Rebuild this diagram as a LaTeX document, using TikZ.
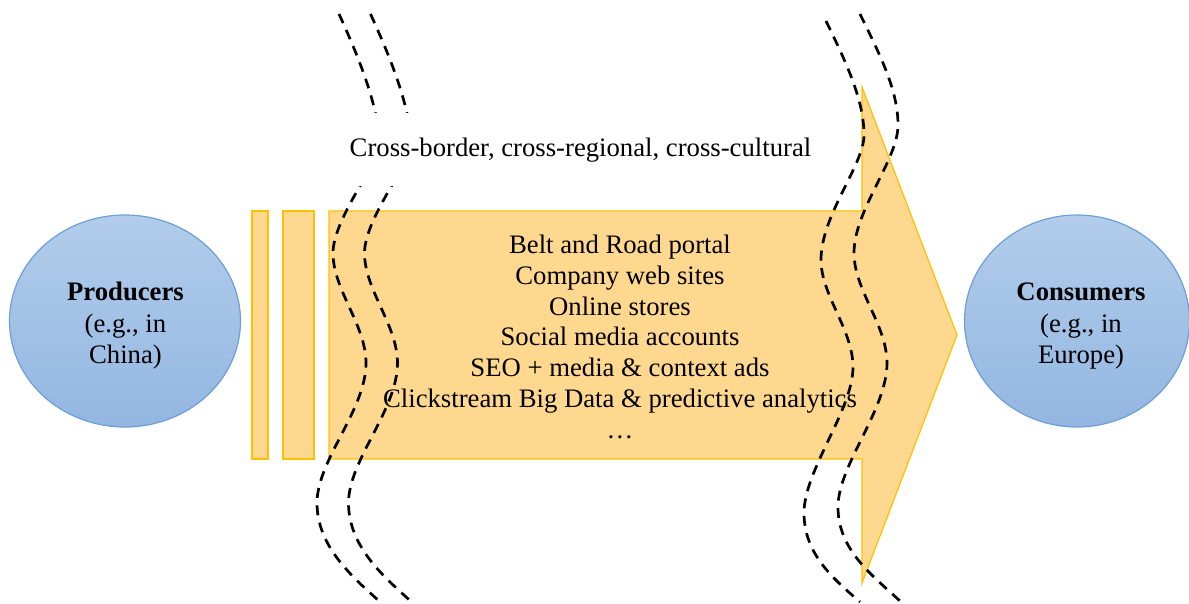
\documentclass[tikz,border=0pt]{standalone}
\usepackage{fontspec}
\setmainfont{Liberation Serif}
\definecolor{barfill}{HTML}{FFD88F}
\definecolor{barline}{HTML}{FFC000}
\definecolor{blobtop}{HTML}{B2CDEA}
\definecolor{blobbot}{HTML}{93B6E2}
\definecolor{blobline}{HTML}{6D9FD5}
\tikzset{
  bar/.style={draw=barline,line width=1.2pt,fill=barfill},
  blob/.style={ellipse,draw=blobline,line width=1.2pt,top color=blobtop,bottom color=blobbot,inner sep=0pt},
  wave/.style={black,line width=2.7pt,dash pattern=on 10pt off 7.5pt},
  body/.style={align=center,font=\fontsize{26.7}{30.9}\selectfont,inner sep=0pt},
  blobtext/.style={align=center,font=\fontsize{26.7}{31.5}\selectfont,inner sep=0pt},
}
\usetikzlibrary{shapes.geometric}
\begin{document}
\begin{tikzpicture}[x=1pt,y=-1pt]
\useasboundingbox (0,0) rectangle (1189,603);
\draw[bar] (252,211) rectangle (268,459);
\draw[bar] (283,211) rectangle (314,459);
\draw[bar] (329,211) -- (862,211) -- (862,87) -- (957,335) -- (862,583) -- (862,459) -- (329,459) -- cycle;
\node[blob,minimum width=231pt,minimum height=212pt] (prod) at (125,321) {};
\node[blob,minimum width=225pt,minimum height=212pt] (cons) at (1077,321) {};
\node[blobtext] (prodtext) at (125.5,326) {\textbf{Producers}\\(e.g., in\\China)};
\node[blobtext] (constext) at (1081,326) {\textbf{Consumers}\\(e.g., in\\Europe)};
\foreach \dx in {0,31.5}{
  \draw[wave,xshift=\dx pt] (339,14) .. controls (360,60) and (380,110) .. (380,150)
    .. controls (372,170) and (333,222) .. (333,253)
    .. controls (333,290) and (366,325) .. (366,363)
    .. controls (366,410) and (317,460) .. (317,503)
    .. controls (317,545) and (350,575) .. (378,600);
}
\draw[wave] (826,21) .. controls (846,62) and (864,100) .. (864,135)
  .. controls (864,165) and (821,215) .. (821,260)
  .. controls (821,295) and (853,330) .. (853,367)
  .. controls (853,410) and (804,470) .. (804,513)
  .. controls (804,555) and (835,580) .. (860,602);
\draw[wave] (860,14) .. controls (880,55) and (898,90) .. (898,125)
  .. controls (898,160) and (854,210) .. (854,253)
  .. controls (854,290) and (887,325) .. (887,363)
  .. controls (887,410) and (838,465) .. (838,507)
  .. controls (838,550) and (872,575) .. (900,601);
\node[fill=white,minimum width=480pt,minimum height=73pt,inner sep=0pt] (gap) at (580,149) {};
\node[body] (label) at (580.5,150) {Cross-border, cross-regional, cross-cultural};
\node[body,anchor=north] (list) at (620,234.5) {Belt and Road portal\\Company web sites\\Online stores\\Social media accounts\\SEO + media \& context ads\\Clickstream Big Data \& predictive analytics\\…};
\end{tikzpicture}
\end{document}
